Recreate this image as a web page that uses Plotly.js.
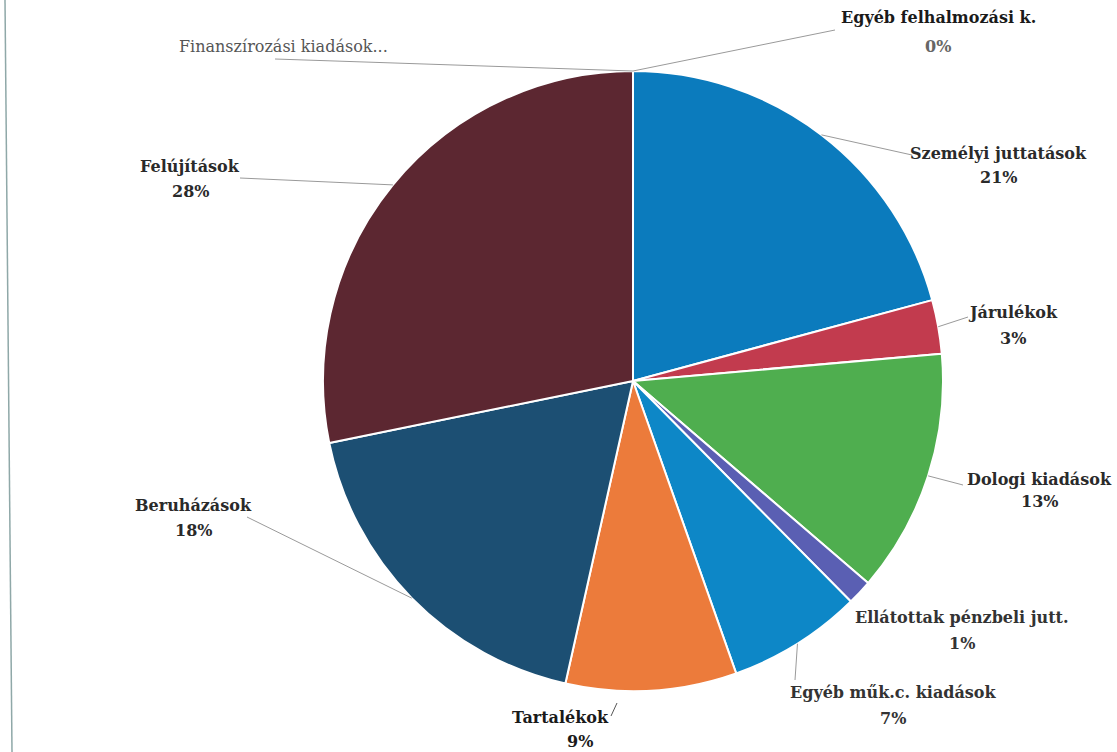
<!DOCTYPE html>
<html><head><meta charset="utf-8">
<script src="https://cdn.plot.ly/plotly-3.0.1.min.js"></script>
<style>html,body{margin:0;padding:0;background:#fff}#chart{width:1117px;height:752px}</style>
</head><body><div id="chart"></div>
<script>
// ---- data ----
const categories = ['Személyi juttatások','Járulékok','Dologi kiadások','Ellátottak pénzbeli jutt.','Egyéb műk.c. kiadások','Tartalékok','Beruházások','Felújítások','Finanszírozási kiadások...','Egyéb felhalmozási k.'];
const values = [20.8, 2.8, 12.7, 1.3, 7.0, 8.9, 18.3, 28.2, 0, 0];
const showPercent = [true, true, true, true, true, true, true, true, false, true];

// ---- styles / layout positions ----
const colors = ['#0b7bbd','#c23b4e','#4fae4f','#5a5fb3','#0d87c7','#ec7b3b','#1c4f73','#5c2731','#888888','#888888'];
// label placement (pixels): [centerX, nameY, pctY]
const labelPos = [[998,153,177],[1013,312,338],[1039,479,502],[962,617,643],[893,692,718],[560,717,741],[193,505,530],[190,167,192],[283,46,null],[938,17,46]];
// leader line end next to label (pixels), null = none
const leaderEnd = [[912,155],[968,317],[963,485],null,[795,680],'tick',[247,517],[240,178],[275,59],[835,30]];
const labelColor = ['#2a2a2a','#2a2a2a','#2a2a2a','#333','#333','#1a1a1a','#2a2a2a','#2a2a2a','#555','#1a1a1a'];
const labelWeight = ['bold','bold','bold','bold','bold','bold','bold','bold','normal','bold'];

const W = 1117, H = 752, CX = 633, CY = 381, R = 310;
const px = x => x / W, py = y => 1 - y / H;
const FONT = 'DejaVu Serif';

const total = values.reduce((a, b) => a + b, 0);
const pct = values.map(v => Math.round(v / total * 100) + '%');

const annotations = [], shapes = [];
let cum = 0;
values.forEach((v, i) => {
  const mid = (cum + v / 2) / total * 2 * Math.PI;
  cum += v;
  const ex = CX + R * Math.sin(mid), ey = CY - R * Math.cos(mid);
  const fnt = {family: FONT, size: 16, color: labelColor[i], weight: labelWeight[i]};
  const [lx, ny, pyy] = labelPos[i];
  annotations.push({x: px(lx), y: py(ny), xref: 'paper', yref: 'paper', text: categories[i], showarrow: false, font: fnt, xanchor: 'center', yanchor: 'middle'});
  if (showPercent[i]) {
    annotations.push({x: px(i === 5 ? lx + 20 : lx), y: py(pyy), xref: 'paper', yref: 'paper', text: pct[i], showarrow: false, font: Object.assign({}, fnt, {color: i === 9 ? '#666' : labelColor[i]}), xanchor: 'center', yanchor: 'middle'});
  }
  const le = leaderEnd[i];
  if (le === 'tick') {
    shapes.push({type: 'line', xref: 'paper', yref: 'paper', x0: px(617), y0: py(703), x1: px(611), y1: py(716), line: {color: '#555', width: 1}});
  } else if (le) {
    shapes.push({type: 'line', xref: 'paper', yref: 'paper', x0: px(ex), y0: py(ey), x1: px(le[0]), y1: py(le[1]), line: {color: '#9a9a9a', width: 1}});
  }
});
// page border line from scan
shapes.push({type: 'line', xref: 'paper', yref: 'paper', x0: px(5), y0: 1, x1: px(12), y1: 0, line: {color: '#8fa8a8', width: 1.5}});

const trace = {
  type: 'pie', labels: categories, values: values, sort: false, direction: 'clockwise', rotation: 0,
  marker: {colors: colors, line: {color: '#ffffff', width: 2}},
  textinfo: 'none', hoverinfo: 'label+percent', showlegend: false,
  domain: {x: [px(CX - R), px(CX + R)], y: [py(CY + R), py(CY - R)]}
};

Plotly.newPlot('chart', [trace], {
  width: W, height: H, margin: {l: 0, r: 0, t: 0, b: 0},
  paper_bgcolor: '#ffffff', showlegend: false,
  font: {family: FONT},
  annotations: annotations, shapes: shapes
}, {staticPlot: true});
</script></body></html>
